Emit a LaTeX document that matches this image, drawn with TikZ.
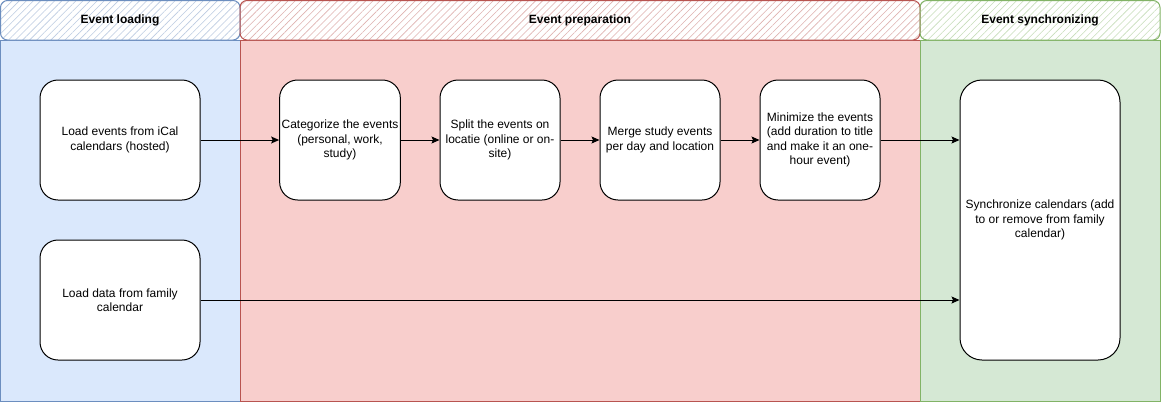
\documentclass[tikz,border=0pt]{standalone}
\usepackage{fontspec}
\setmainfont{Liberation Sans}
\usetikzlibrary{arrows.meta,patterns.meta}
\definecolor{bfill}{HTML}{DAE8FC}\definecolor{bline}{HTML}{6C8EBF}
\definecolor{rfill}{HTML}{F8CECC}\definecolor{rline}{HTML}{B85450}
\definecolor{gfill}{HTML}{D5E8D4}\definecolor{gline}{HTML}{82B366}
\begin{document}
\begin{tikzpicture}[x=1pt,y=-1pt,
  font=\fontsize{12}{14.4}\selectfont,
  lanebody/.style={draw=#1, line width=1pt},
  lanehead/.style={draw=#1, line width=1pt, rounded corners=7pt, fill=white,
     pattern={Lines[angle=45,distance=5pt,line width=0.6pt]}, pattern color=#1!45},
  headtxt/.style={font=\fontsize{12}{14.4}\selectfont\bfseries},
  stepbox/.style={draw=black, fill=white, line width=1pt, rounded corners=18pt,
     minimum width=120pt, minimum height=120pt, align=center, inner sep=2pt},
  widebox/.style={stepbox, minimum width=160pt},
  conn/.style={line width=1pt, -{Stealth[length=8pt,width=7pt,inset=1.5pt]}}]
\useasboundingbox (0,0) rectangle (1162,402);
% lanes bodies
\fill[bfill] (0.5,40) rectangle (240,401);
\fill[rfill] (240,40) rectangle (920,401);
\fill[gfill] (920,40) rectangle (1160,401);
\draw[lanebody=bline] (0.5,40) rectangle (240,401);
\draw[lanebody=rline] (240,40) rectangle (920,401);
\draw[lanebody=gline] (920,40) rectangle (1160,401);
% headers
\fill[white,rounded corners=7pt] (0.5,0.5) rectangle (240,40);
\fill[white,rounded corners=7pt] (240,0.5) rectangle (920,40);
\fill[white,rounded corners=7pt] (920,0.5) rectangle (1160,40);
\path[lanehead=bline] (0.5,0.5) rectangle (240,40);
\path[lanehead=rline] (240,0.5) rectangle (920,40);
\path[lanehead=gline] (920,0.5) rectangle (1160,40);
\node[headtxt] (h1) at (120,20) {Event loading};
\node[headtxt] (h2) at (580,20) {Event preparation};
\node[headtxt] (h3) at (1040,20) {Event synchronizing};
% boxes
\node[widebox] (load1) at (120,140) {Load events from iCal\\calendars (hosted)};
\node[widebox] (load2) at (120,300) {Load data from family\\calendar};
\node[stepbox] (cat) at (340,140) {Categorize the events\\(personal, work,\\study)};
\node[stepbox] (split) at (500,140) {Split the events on\\locatie (online or on-\\site)};
\node[stepbox] (merge) at (660,140) {Merge study events\\per day and location};
\node[stepbox] (mini) at (820,140) {Minimize the events\\(add duration to title\\and make it an one-\\hour event)};
\node[widebox, minimum height=280pt, rounded corners=22pt] (sync) at (1040,220) {Synchronize calendars (add\\to or remove from family\\calendar)};
% connectors
\draw[conn] (load1) -- (cat);
\draw[conn] (cat) -- (split);
\draw[conn] (split) -- (merge);
\draw[conn] (merge) -- (mini);
\draw[conn] (mini.east) -- (mini.east -| sync.west);
\draw[conn] (load2.east) -- (load2.east -| sync.west);
\end{tikzpicture}
\end{document}
